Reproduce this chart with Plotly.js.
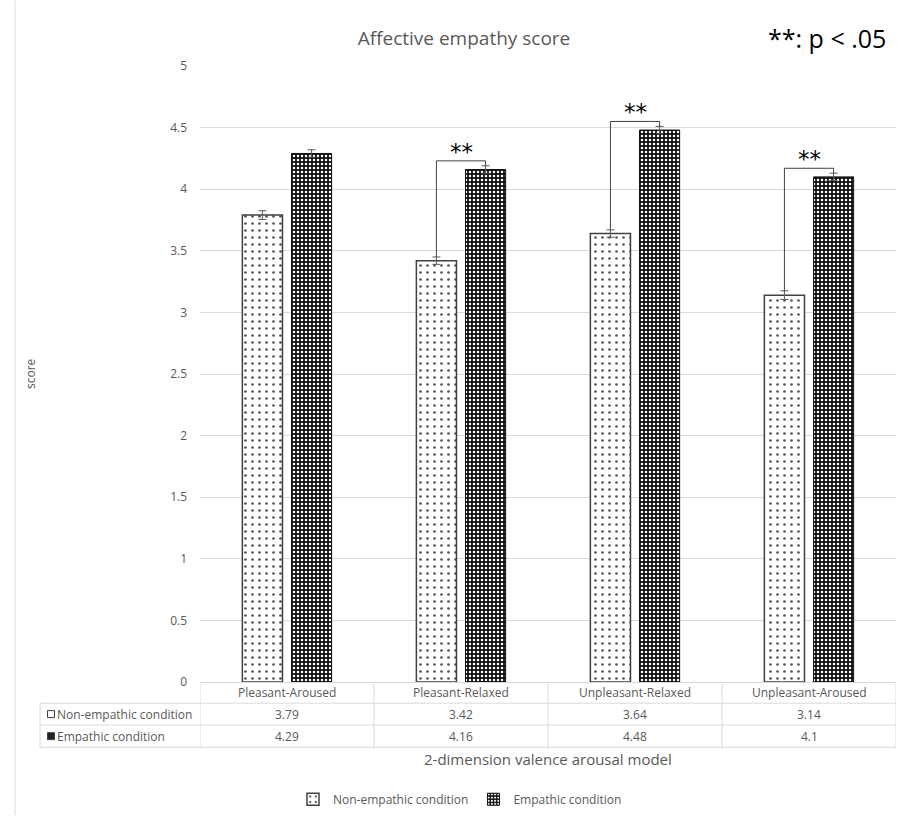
<!DOCTYPE html>
<html>
<head>
<meta charset="utf-8">
<script src="https://cdn.plot.ly/plotly-3.0.1.min.js"></script>
<style>html,body{margin:0;padding:0;background:#fff;}#chart{width:902px;height:820px;}</style>
</head>
<body>
<div id="chart"></div>
<script>
// ---- data ----
const categories = ['Pleasant-Aroused', 'Pleasant-Relaxed', 'Unpleasant-Relaxed', 'Unpleasant-Aroused'];
const seriesNames = ['Non-empathic condition', 'Empathic condition'];
const nonEmpathic = [3.79, 3.42, 3.64, 3.14];
const empathic = [4.29, 4.16, 4.48, 4.1];
const nonEmpathicErr = [0.035, 0.03, 0.03, 0.035];
const empathicErr = [0.03, 0.03, 0.03, 0.03];
const significant = [false, true, true, true];
const yTicks = [0, 0.5, 1, 1.5, 2, 2.5, 3, 3.5, 4, 4.5, 5];

// ---- layout helpers ----
const L = 200, R = 896, T = 66, B = 686;
const W = 902, H = 820;
const xp = px => (px - L) / (R - L);
const yp = py => (B - py) / (B - T);
const grey = '#595959';
const lineGrey = '#d9d9d9';
const font = 'Open Sans, Noto Sans, sans-serif';

const bargap = 0.435, bargroupgap = 0.184;
const halfSlot = (1 - bargap) / 4; // centre offset of each bar in a group of two

const traces = [
  {
    type: 'bar', name: seriesNames[0], x: categories, y: nonEmpathic,
    marker: {
      color: '#ffffff',
      line: {color: '#404040', width: 1.5},
      pattern: {shape: '.', fgcolor: '#555555', bgcolor: '#ffffff', size: 7, solidity: 0.12, fillmode: 'replace'}
    },
    error_y: {type: 'data', array: nonEmpathicErr, visible: true, color: '#595959', thickness: 1, width: 4},
    hoverinfo: 'skip'
  },
  {
    type: 'bar', name: seriesNames[1], x: categories, y: empathic,
    marker: {
      color: '#111111',
      line: {color: '#111111', width: 1},
      pattern: {shape: '.', fgcolor: '#ffffff', bgcolor: '#111111', size: 4, solidity: 0.3, fillmode: 'replace'}
    },
    error_y: {type: 'data', array: empathicErr, visible: true, color: '#595959', thickness: 1, width: 4},
    hoverinfo: 'skip'
  }
];

const shapes = [];
const annotations = [];

// significance brackets
categories.forEach((c, i) => {
  if (!significant[i]) return;
  const xl = i - halfSlot, xr = i + halfSlot;
  const yl = nonEmpathic[i] + nonEmpathicErr[i];
  const yr = empathic[i] + empathicErr[i];
  const top = Math.max(yl, yr) + 0.04;
  shapes.push({type: 'path', xref: 'x', yref: 'y',
    path: `M ${xl} ${yl} L ${xl} ${top} L ${xr} ${top} L ${xr} ${yr}`,
    line: {color: '#404040', width: 1}});
  annotations.push({xref: 'x', yref: 'y', x: i, y: top, yanchor: 'bottom', yshift: -6,
    text: '**', showarrow: false, font: {family: 'DejaVu Sans, sans-serif', size: 23, color: '#000000'}});
});

// data table below the axis
const rowTop = [686, 707.3, 729.3, 751.7];
[rowTop[1], rowTop[2], rowTop[3]].forEach(py => {
  shapes.push({type: 'line', xref: 'paper', yref: 'paper', x0: xp(40), x1: 1, y0: yp(py), y1: yp(py), line: {color: lineGrey, width: 1}});
});
for (let k = 0; k <= categories.length; k++) {
  shapes.push({type: 'line', xref: 'x', yref: 'paper', x0: k - 0.5, x1: k - 0.5, y0: yp(rowTop[0]), y1: yp(rowTop[3]), line: {color: lineGrey, width: 1}});
}
shapes.push({type: 'line', xref: 'paper', yref: 'paper', x0: xp(40), x1: xp(40), y0: yp(rowTop[1]), y1: yp(rowTop[3]), line: {color: lineGrey, width: 1}});
categories.forEach((c, i) => {
  annotations.push({xref: 'x', yref: 'paper', x: i, y: yp((rowTop[0] + rowTop[1]) / 2), text: c, showarrow: false,
    font: {family: font, size: 12, color: grey}, yanchor: 'middle'});
});
const rowData = [nonEmpathic, empathic];
rowData.forEach((vals, r) => {
  const cy = yp((rowTop[r + 1] + rowTop[r + 2]) / 2);
  vals.forEach((v, i) => {
    annotations.push({xref: 'x', yref: 'paper', x: i, y: cy, text: String(v), showarrow: false,
      font: {family: font, size: 12, color: grey}, yanchor: 'middle'});
  });
  annotations.push({xref: 'paper', yref: 'paper', x: xp(55), y: cy, xanchor: 'left', text: seriesNames[r], showarrow: false,
    font: {family: font, size: 12, color: grey}, yanchor: 'middle'});
  const midPy = (rowTop[r + 1] + rowTop[r + 2]) / 2;
  shapes.push({type: 'rect', xref: 'paper', yref: 'paper', x0: xp(47.5), x1: xp(54.5), y0: yp(midPy + 3.5), y1: yp(midPy - 3.5),
    fillcolor: r === 0 ? '#ffffff' : '#222222', line: {color: '#404040', width: 1}});
});

// left chart border
shapes.push({type: 'line', xref: 'paper', yref: 'paper', x0: xp(15), x1: xp(15), y0: yp(0), y1: yp(820), line: {color: lineGrey, width: 1}});

// titles
annotations.push({xref: 'paper', yref: 'paper', x: xp(888), y: yp(38), xanchor: 'right', yanchor: 'middle', text: '**: p < .05', showarrow: false,
  font: {family: font, size: 25, color: '#000'}});
annotations.push({xref: 'paper', yref: 'paper', x: 0.5, y: yp(764), yanchor: 'middle', text: '2-dimension valence arousal model', showarrow: false,
  font: {family: font, size: 15, color: grey}});
annotations.push({xref: 'paper', yref: 'paper', x: xp(30), y: yp(376), textangle: -90, yanchor: 'middle', xanchor: 'center', text: 'score', showarrow: false,
  font: {family: font, size: 12, color: grey}});

const layout = {
  width: W, height: H,
  margin: {l: L, r: W - R, t: T, b: H - B, pad: 0},
  paper_bgcolor: '#fff', plot_bgcolor: '#fff',
  font: {family: font, color: grey},
  title: {text: 'Affective empathy score', x: xp(464), xref: 'paper', xanchor: 'center', y: 1 - 38 / H, yanchor: 'middle',
    font: {family: font, size: 19, color: grey}},
  barmode: 'group', bargap: bargap, bargroupgap: bargroupgap,
  xaxis: {type: 'category', range: [-0.5, categories.length - 0.5], showticklabels: false, ticks: '',
    showline: true, linecolor: lineGrey, linewidth: 1, showgrid: false, zeroline: false, fixedrange: true},
  yaxis: {range: [0, 5], tickvals: yTicks, ticktext: yTicks.map(String), showgrid: true, gridcolor: lineGrey, gridwidth: 1,
    zeroline: false, showline: false, ticks: '', ticklabelstandoff: 12,
    tickfont: {family: font, size: 12, color: grey}, fixedrange: true},
  showlegend: true,
  legend: {orientation: 'h', x: xp(460), xanchor: 'center', y: yp(804), yanchor: 'middle',
    font: {family: font, size: 12, color: grey}, itemwidth: 30, tracegroupgap: 0, bgcolor: 'rgba(0,0,0,0)'},
  shapes: shapes,
  annotations: annotations
};

Plotly.newPlot('chart', traces, layout, {displayModeBar: false, staticPlot: true});
</script>
</body>
</html>
